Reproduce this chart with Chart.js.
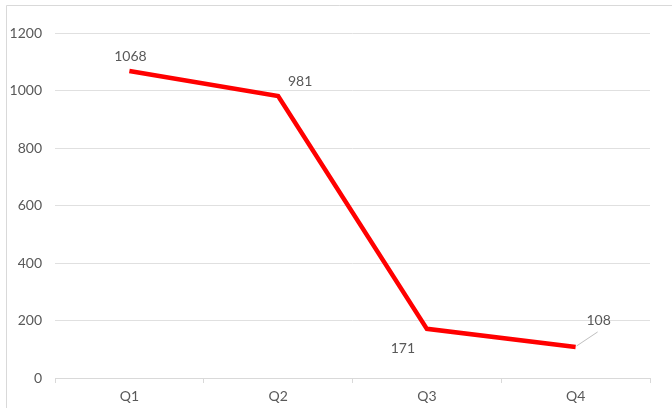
<!DOCTYPE html>
<html>
<head>
<meta charset="utf-8">
<script src="https://cdn.jsdelivr.net/npm/chart.js@4/dist/chart.umd.min.js"></script>
<style>
  html, body { margin: 0; padding: 0; background: #fff; }
</style>
</head>
<body>
<canvas id="myChart" width="672" height="408"></canvas>
<script>
// datos
const categorias = ['Q1', 'Q2', 'Q3', 'Q4'];
const valores = [1068, 981, 171, 108];
const ticksY = [0, 200, 400, 600, 800, 1000, 1200];

// desplazamiento de cada etiqueta respecto a su punto (px)
const etiquetasOffset = [
    { dx: 1, dy: -14 },
    { dx: 22, dy: -14 },
    { dx: -24, dy: 20 },
    { dx: 23, dy: -26, guia: true }
];

const fuente = "Lato, 'Open Sans', sans-serif";

// marco gris (solo arriba e izquierda, el resto queda fuera del recorte)
const marcoPlugin = {
    id: 'marco',
    beforeDraw(chart) {
        const c = chart.ctx;
        c.save();
        c.fillStyle = '#fff';
        c.fillRect(0, 0, chart.width, chart.height);
        c.strokeStyle = '#d9d9d9';
        c.lineWidth = 1;
        c.beginPath();
        c.moveTo(6.5, chart.height);
        c.lineTo(6.5, 5.5);
        c.lineTo(chart.width, 5.5);
        c.stroke();
        c.restore();
    }
};

// etiquetas de datos
const etiquetasPlugin = {
    id: 'etiquetas',
    afterDatasetsDraw(chart) {
        const c = chart.ctx;
        const meta = chart.getDatasetMeta(0);
        c.save();
        c.font = '14px ' + fuente;
        c.fillStyle = '#595959';
        c.textAlign = 'center';
        c.textBaseline = 'middle';
        meta.data.forEach((pt, i) => {
            const o = etiquetasOffset[i];
            const x = pt.x + o.dx, y = pt.y + o.dy;
            if (o.guia) {
                c.strokeStyle = '#bfbfbf';
                c.lineWidth = 1;
                c.beginPath();
                c.moveTo(pt.x + 1, pt.y - 1);
                c.lineTo(x - 1, y + 11);
                c.stroke();
            }
            c.fillText(String(valores[i]), x, y);
        });
        c.restore();
    }
};

const ctx = document.getElementById('myChart');
const myChart = new Chart(ctx, {
    type: 'line',
    data: {
        labels: categorias,
        datasets: [{
            data: valores,
            borderColor: '#ff0000',
            borderWidth: 4.5,
            pointRadius: 0,
            tension: 0,
            borderCapStyle: 'butt',
            borderJoinStyle: 'miter'
        }]
    },
    options: {
        responsive: false,
        animation: false,
        plugins: {
            legend: { display: false },
            tooltip: { enabled: false }
        },
        layout: { padding: { top: 33, right: 22, bottom: 0, left: 0 } },
        scales: {
            x: {
                offset: true,
                grid: {
                    offset: true,
                    drawOnChartArea: false,
                    drawTicks: true,
                    tickLength: 5,
                    color: '#d9d9d9'
                },
                border: { color: '#d9d9d9' },
                ticks: {
                    color: '#595959',
                    font: { family: fuente, size: 14 },
                    padding: 5
                },
                afterFit(scale) { scale.height = 30; }
            },
            y: {
                min: 0,
                max: 1200,
                afterBuildTicks(scale) {
                    scale.ticks = ticksY.map(v => ({ value: v }));
                },
                grid: {
                    color: '#e0e0e0',
                    drawTicks: false
                },
                border: { display: false },
                ticks: {
                    color: '#595959',
                    font: { family: fuente, size: 14 },
                    padding: 13,
                    callback: v => String(v)
                },
                afterFit(scale) { scale.width = 55; }
            }
        }
    },
    plugins: [marcoPlugin, etiquetasPlugin]
});
</script>
</body>
</html>
